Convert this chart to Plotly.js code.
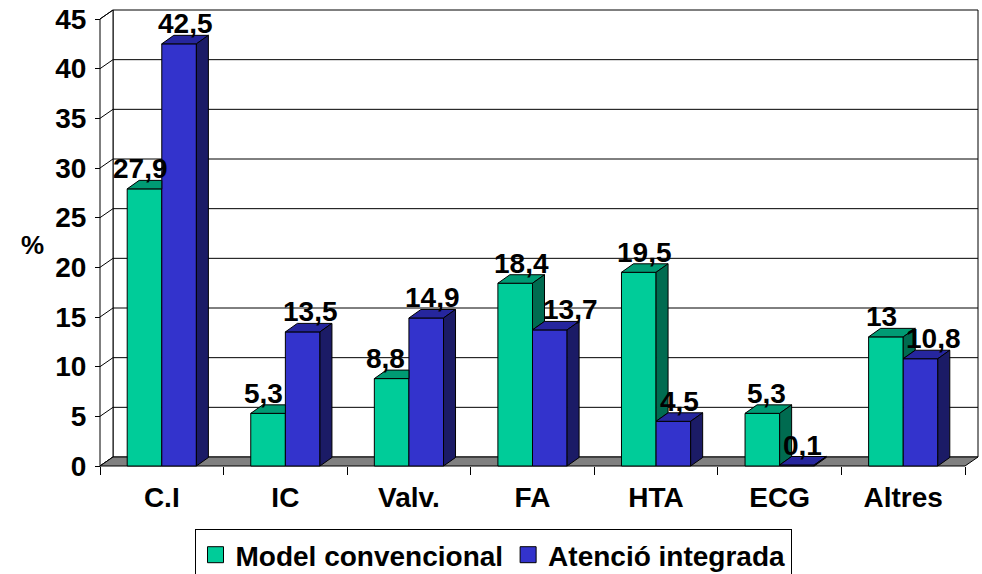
<!DOCTYPE html>
<html><head><meta charset="utf-8">
<script src="https://cdn.plot.ly/plotly-3.0.1.min.js"></script>
<style>html,body{margin:0;padding:0;background:#fff}#chart{width:982px;height:574px}</style>
</head><body><div id="chart"></div>
<script>
// ---- data ----
const categories = ['C.I','IC','Valv.','FA','HTA','ECG','Altres'];
const modelConvencional = [27.9, 5.3, 8.8, 18.4, 19.5, 5.3, 13];
const atencioIntegrada = [42.5, 13.5, 14.9, 13.7, 4.5, 0.1, 10.8];
const seriesNames = ['Model convencional', 'Atenció integrada'];
const yTicks = [0, 5, 10, 15, 20, 25, 30, 35, 40, 45];

// ---- geometry / style ----
const W = 982, H = 574;
const N = categories.length, YMAX = 45;
const CAT_PX = 123.6, Y_PX = 447 / 45;      // px per category, px per unit
const BOX_DX_PX = 13, BOX_DY_PX = 9;       // depth of the 3D box
const BAR_DX_PX = 12, BAR_DY_PX = 8.5;     // depth of the bars
const PAD = 2;
const DX = BOX_DX_PX / CAT_PX, DY = BOX_DY_PX / Y_PX;
const BDX = BAR_DX_PX / CAT_PX, BDY = BAR_DY_PX / Y_PX;
const PX = PAD / CAT_PX, PY = PAD / Y_PX;
const plotW = N * CAT_PX + BOX_DX_PX + 2 * PAD;
const plotH = YMAX * Y_PX + BOX_DY_PX + 2 * PAD;
const ML = 100 - PAD, MT = 10 - PAD;
const MR = W - ML - plotW, MB = H - MT - plotH;
const BAR_W = 0.28;
const FONT = 'Liberation Sans, Arial, sans-serif';
const colors = {
  g: {front: '#00CC99', top: '#009B74', side: '#006B50'},
  b: {front: '#3333CC', top: '#26269E', side: '#1B1B66'}
};
// small manual nudges of value labels (px), as in the original
const labelShiftG = [-10, -11, -12, 0, 0, -2, -10];
const labelShiftB = [0, 2, 0, 15, 0, 0, 7];

const fmt = v => String(v).replace('.', ',');

const traces = [];
const centers = categories.map((c, i) => i + 0.5);
traces.push({
  type: 'bar', name: seriesNames[0], showlegend: false,
  x: centers.map(c => c - BAR_W / 2), y: modelConvencional, width: BAR_W,
  marker: {color: colors.g.front, line: {color: '#000', width: 1}},
  hoverinfo: 'skip'
});
traces.push({
  type: 'bar', name: seriesNames[1], showlegend: false,
  x: centers.map(c => c + BAR_W / 2), y: atencioIntegrada, width: BAR_W,
  marker: {color: colors.b.front, line: {color: '#000', width: 1}},
  hoverinfo: 'skip'
});

function poly(pts, fill) {
  traces.push({
    type: 'scatter', mode: 'lines', fill: 'toself', fillcolor: fill,
    x: pts.map(p => p[0]).concat([pts[0][0]]),
    y: pts.map(p => p[1]).concat([pts[0][1]]),
    line: {color: '#000', width: 1}, showlegend: false, hoverinfo: 'skip'
  });
}

const annotations = [];
centers.forEach((c, i) => {
  const g = modelConvencional[i], b = atencioIntegrada[i];
  const gl = c - BAR_W;
  if (g < b) poly([[gl, g], [c, g], [c, g + BDY], [gl + BDX, g + BDY]], colors.g.top);
  else poly([[gl, g], [c, g], [c + BDX, g + BDY], [gl + BDX, g + BDY]], colors.g.top);
  if (g > b) poly([[c, b], [c, g], [c + BDX, g + BDY], [c + BDX, b + BDY]], colors.g.side);
  poly([[c, b], [c + BAR_W, b], [c + BAR_W + BDX, b + BDY], [c + BDX, b + BDY]], colors.b.top);
  poly([[c + BAR_W, 0], [c + BAR_W, b], [c + BAR_W + BDX, b + BDY], [c + BAR_W + BDX, BDY]], colors.b.side);

  annotations.push({
    x: c - BAR_W / 2 + BDX / 2, y: g + BDY, xref: 'x', yref: 'y',
    text: fmt(g), showarrow: false, yanchor: 'bottom', xanchor: 'center',
    xshift: labelShiftG[i], yshift: -6,
    font: {family: FONT, size: 28, color: '#000', weight: 'bold'}
  });
  annotations.push({
    x: c + BAR_W / 2 + BDX / 2, y: b + BDY, xref: 'x', yref: 'y',
    text: fmt(b), showarrow: false, yanchor: 'bottom', xanchor: 'center',
    xshift: labelShiftB[i], yshift: -6,
    font: {family: FONT, size: 28, color: '#000', weight: 'bold'}
  });
});

annotations.push({
  xref: 'paper', yref: 'paper', x: (32 - ML) / plotW, y: (H - MB - 245) / plotH,
  text: '%', showarrow: false, xanchor: 'center', yanchor: 'middle',
  font: {family: FONT, size: 26, color: '#000', weight: 'bold'}
});

// legend-only entries (bigger square symbols)
[[seriesNames[0], colors.g.front], [seriesNames[1], colors.b.front]].forEach(([nm, col]) => {
  traces.push({type: 'scatter', mode: 'markers', name: nm, x: [null], y: [null],
    marker: {symbol: 'square', size: 16, color: col, line: {color: '#000', width: 1}},
    showlegend: true, hoverinfo: 'skip'});
});

const line = {color: '#000', width: 1};
const shapes = [];
shapes.push({type: 'rect', xref: 'x', yref: 'y', x0: DX, x1: N + DX, y0: DY, y1: YMAX + DY,
  line: line, fillcolor: '#fff', layer: 'below'});
yTicks.forEach(v => {
  if (v > 0 && v < YMAX) shapes.push({type: 'line', xref: 'x', yref: 'y',
    x0: DX, x1: N + DX, y0: v + DY, y1: v + DY, line: line, layer: 'below'});
});
shapes.push({type: 'path', xref: 'x', yref: 'y',
  path: `M0,0 L0,${YMAX} L${DX},${YMAX + DY} L${DX},${DY} Z`, line: line, fillcolor: '#fff', layer: 'below'});
yTicks.forEach(v => {
  shapes.push({type: 'line', xref: 'x', yref: 'y', x0: 0, x1: DX, y0: v, y1: v + DY, line: line, layer: 'below'});
});
shapes.push({type: 'path', xref: 'x', yref: 'y',
  path: `M0,0 L${N},0 L${N + DX},${DY} L${DX},${DY} Z`, line: line, fillcolor: '#808080', layer: 'below'});

const xRange = [-PX, N + DX + PX];
const layout = {
  width: W, height: H,
  margin: {l: ML, r: MR, t: MT, b: MB, pad: 0},
  paper_bgcolor: '#fff', plot_bgcolor: 'rgba(0,0,0,0)',
  font: {family: FONT, size: 28, color: '#000', weight: 'bold'},
  barmode: 'overlay', showlegend: true,
  xaxis: {
    range: xRange, anchor: 'free', position: PY / ((YMAX + DY) + 2 * PY),
    tickvals: centers, ticktext: categories, ticks: '', showgrid: false, zeroline: false,
    showline: false, ticklabelstandoff: 12,
    tickfont: {family: FONT, size: 28, color: '#000', weight: 'bold'}
  },
  xaxis2: {
    range: xRange, overlaying: 'x', anchor: 'free', position: PY / ((YMAX + DY) + 2 * PY),
    side: 'bottom', tickvals: categories.map((c, i) => i).concat([N]), ticks: 'outside', ticklen: 8,
    tickcolor: '#000', tickwidth: 1, showticklabels: false, showgrid: false, zeroline: false, showline: false
  },
  yaxis: {
    range: [-PY, YMAX + DY + PY], anchor: 'free', position: PX / (N + DX + 2 * PX),
    tickvals: yTicks, ticks: 'outside', ticklen: 5, tickcolor: '#000', tickwidth: 1,
    showgrid: false, zeroline: false, showline: false, ticklabelstandoff: 3,
    tickfont: {family: FONT, size: 28, color: '#000', weight: 'bold'}
  },
  legend: {
    orientation: 'h', xref: 'container', yref: 'container',
    x: 493 / W, xanchor: 'center', y: 1 - 529 / H, yanchor: 'top',
    bordercolor: '#000', borderwidth: 1, bgcolor: '#fff',
    font: {family: FONT, size: 28, color: '#000', weight: 'bold'},
    itemwidth: 30, traceorder: 'normal', itemsizing: 'trace'
  },
  shapes: shapes,
  annotations: annotations
};
traces.push({type: 'scatter', x: [0], y: [0], xaxis: 'x2', mode: 'markers',
  marker: {opacity: 0}, showlegend: false, hoverinfo: 'skip'});

Plotly.newPlot('chart', traces, layout, {displayModeBar: false, staticPlot: true});
</script>
</body></html>
